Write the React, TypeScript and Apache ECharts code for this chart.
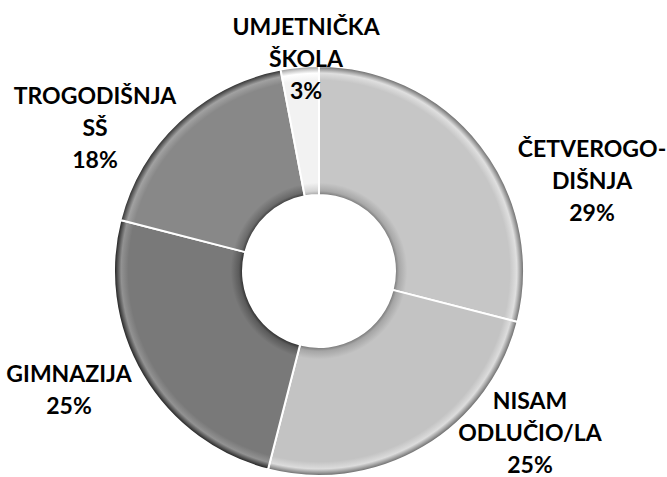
import React, { useEffect, useRef } from "react";
import * as echarts from "echarts";

const categories = ["ČETVEROGO-\nDIŠNJA", "NISAM\nODLUČIO/LA", "GIMNAZIJA", "TROGODIŠNJA\nSŠ", "UMJETNIČKA\nŠKOLA"];
const values = [29, 25, 25, 18, 3];
const colors = ["#c6c6c6", "#c3c3c3", "#797979", "#888888", "#f2f2f2"];
const labelPos: [number, number][] = [
  [592, 180],
  [530, 432],
  [69, 389],
  [95, 127],
  [306, 58],
];

const CX = 319;
const CY = 271;
const R0 = 76;
const R1 = 205;

function shade(hex: string, d: number) {
  const n = parseInt(hex.slice(1), 16);
  const c = (v: number) => Math.max(0, Math.min(255, v + d));
  const r = c((n >> 16) & 255), g = c((n >> 8) & 255), b = c(n & 255);
  return `rgb(${r},${g},${b})`;
}

function grad(base: string) {
  const a = R0 / R1;
  return {
    type: "radial",
    x: CX,
    y: CY,
    r: R1,
    global: true,
    colorStops: [
      { offset: a, color: shade(base, -80) },
      { offset: a + 0.02, color: shade(base, -30) },
      { offset: a + 0.06, color: base },
      { offset: 0.93, color: base },
      { offset: 0.965, color: shade(base, 25) },
      { offset: 0.985, color: shade(base, -45) },
      { offset: 1, color: shade(base, -100) },
    ],
  };
}

export default function App() {
  const ref = useRef<HTMLDivElement>(null);
  useEffect(() => {
    if (!ref.current) return;
    const chart = echarts.init(ref.current, undefined, { renderer: "svg" });
    chart.setOption({
      animation: false,
      backgroundColor: "#ffffff",
      series: [
        {
          type: "pie",
          center: [CX, CY],
          radius: [R0, R1],
          startAngle: 90,
          clockwise: true,
          avoidLabelOverlap: false,
          itemStyle: { borderColor: "#ffffff", borderWidth: 2 },
          label: {
            show: true,
            formatter: "{b}\n{c}%",
            fontFamily: "Lato",
            fontWeight: "bold",
            fontSize: 23,
            lineHeight: 32,
            color: "#000000",
            align: "center",
          },
          labelLine: { show: false },
          labelLayout: (p: any) => ({
            x: labelPos[p.dataIndex][0],
            y: labelPos[p.dataIndex][1],
            align: "center",
            verticalAlign: "middle",
          }),
          emphasis: { disabled: true },
          data: categories.map((name, i) => ({
            name,
            value: values[i],
            itemStyle: { color: grad(colors[i]) },
          })),
        },
      ],
    });
    return () => chart.dispose();
  }, []);
  return (
    <div
      ref={ref}
      style={{ position: "fixed", left: 0, top: 0, width: 667, height: 477 }}
    />
  );
}
